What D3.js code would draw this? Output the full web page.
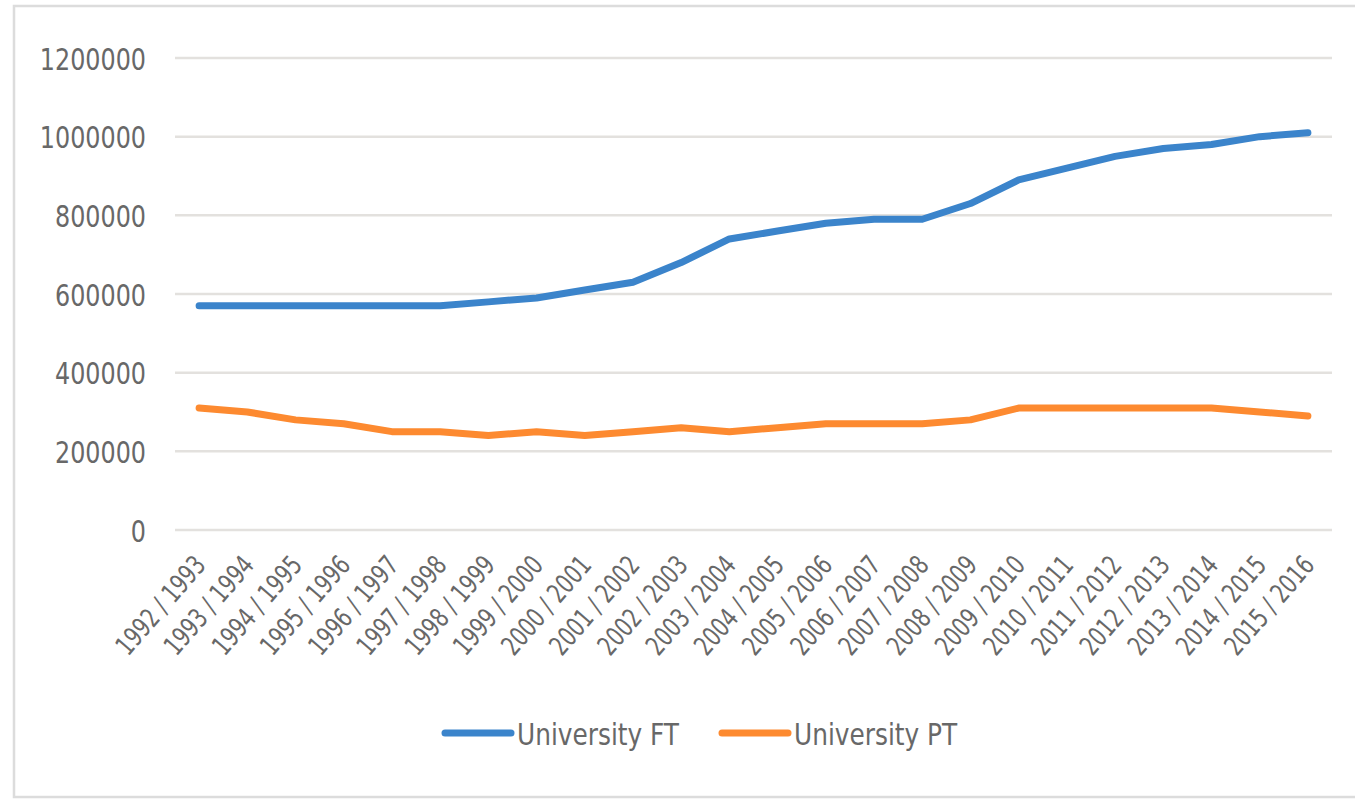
<!DOCTYPE html>
<html><head><meta charset="utf-8">
<script src="https://cdn.jsdelivr.net/npm/d3@7"></script>
<style>
html,body{margin:0;padding:0;background:#fff;}
svg text{font-family:"DejaVu Sans Condensed","DejaVu Sans",sans-serif;fill:#686868;}
</style></head>
<body>
<svg id="chart" width="1355" height="800"></svg>
<script>
const categories = ["1992 / 1993","1993 / 1994","1994 / 1995","1995 / 1996","1996 / 1997","1997 / 1998","1998 / 1999","1999 / 2000","2000 / 2001","2001 / 2002","2002 / 2003","2003 / 2004","2004 / 2005","2005 / 2006","2006 / 2007","2007 / 2008","2008 / 2009","2009 / 2010","2010 / 2011","2011 / 2012","2012 / 2013","2013 / 2014","2014 / 2015","2015 / 2016"];
const universityFT = [570000,570000,570000,570000,570000,570000,580000,590000,610000,630000,680000,740000,760000,780000,790000,790000,830000,890000,920000,950000,970000,980000,1000000,1010000];
const universityPT = [310000,300000,280000,270000,250000,250000,240000,250000,240000,250000,260000,250000,260000,270000,270000,270000,280000,310000,310000,310000,310000,310000,300000,290000];
const yTicks = [0,200000,400000,600000,800000,1000000,1200000];
const seriesNames = ["University FT","University PT"];
const seriesColors = ["#3b84cb","#fd8a30"];

const svg = d3.select("#chart");
// outer frame
svg.append("rect").attr("x",14).attr("y",6).attr("width",1400).attr("height",791)
  .attr("fill","none").attr("stroke","#dcdcdc").attr("stroke-width",2.5);

const mLeft = 175, mRight = 1332, mTop = 58, mBottom = 530;
const x = d3.scaleBand().domain(categories).range([mLeft,mRight]);
const y = d3.scaleLinear().domain([0,1200000]).range([mBottom,mTop]);

// gridlines
svg.append("g").selectAll("line").data(yTicks).join("line")
  .attr("x1",mLeft).attr("x2",mRight)
  .attr("y1",d=>y(d)).attr("y2",d=>y(d))
  .attr("stroke","#e3e1de").attr("stroke-width",2.5);

// y axis labels
const yAxis = d3.axisLeft(y).tickValues(yTicks).tickSize(0).tickPadding(0).tickFormat(d3.format("d"));
const yg = svg.append("g").attr("transform",`translate(146,0)`).call(yAxis);
yg.select(".domain").remove();
yg.selectAll("text").attr("font-size",31).attr("dy","0.36em").attr("x",0)
  .attr("transform","scale(0.855,1)");

// x axis labels
const xAxis = d3.axisBottom(x).tickSize(0).tickPadding(0);
const xg = svg.append("g").attr("transform",`translate(0,${mBottom})`).call(xAxis);
xg.select(".domain").remove();
xg.selectAll("text")
  .attr("font-size",27)
  .attr("text-anchor","end")
  .attr("dy",0).attr("y",0)
  .attr("transform","translate(8,36) rotate(-49) scale(0.82,1)");

// lines
const cx = d => x(d) + x.bandwidth()/2;
const series = [universityFT, universityPT];
const line = d3.line().x((d,i)=>cx(categories[i])).y(d=>y(d));
svg.append("g").selectAll("path").data(series).join("path")
  .attr("d",d=>line(d)).attr("fill","none")
  .attr("stroke",(d,i)=>seriesColors[i]).attr("stroke-width",7)
  .attr("stroke-linecap","round").attr("stroke-linejoin","round");

// legend
const legendX = [445,722];
const lg = svg.append("g").selectAll("g").data(seriesNames).join("g")
  .attr("transform",(d,i)=>`translate(${legendX[i]},733)`);
lg.append("line").attr("x1",0).attr("x2",66).attr("y1",0).attr("y2",0)
  .attr("stroke",(d,i)=>seriesColors[i]).attr("stroke-width",7).attr("stroke-linecap","round");
lg.append("text").attr("transform","translate(72,12) scale(0.92,1)").attr("font-size",30).text(d=>d);
</script>
</body></html>
